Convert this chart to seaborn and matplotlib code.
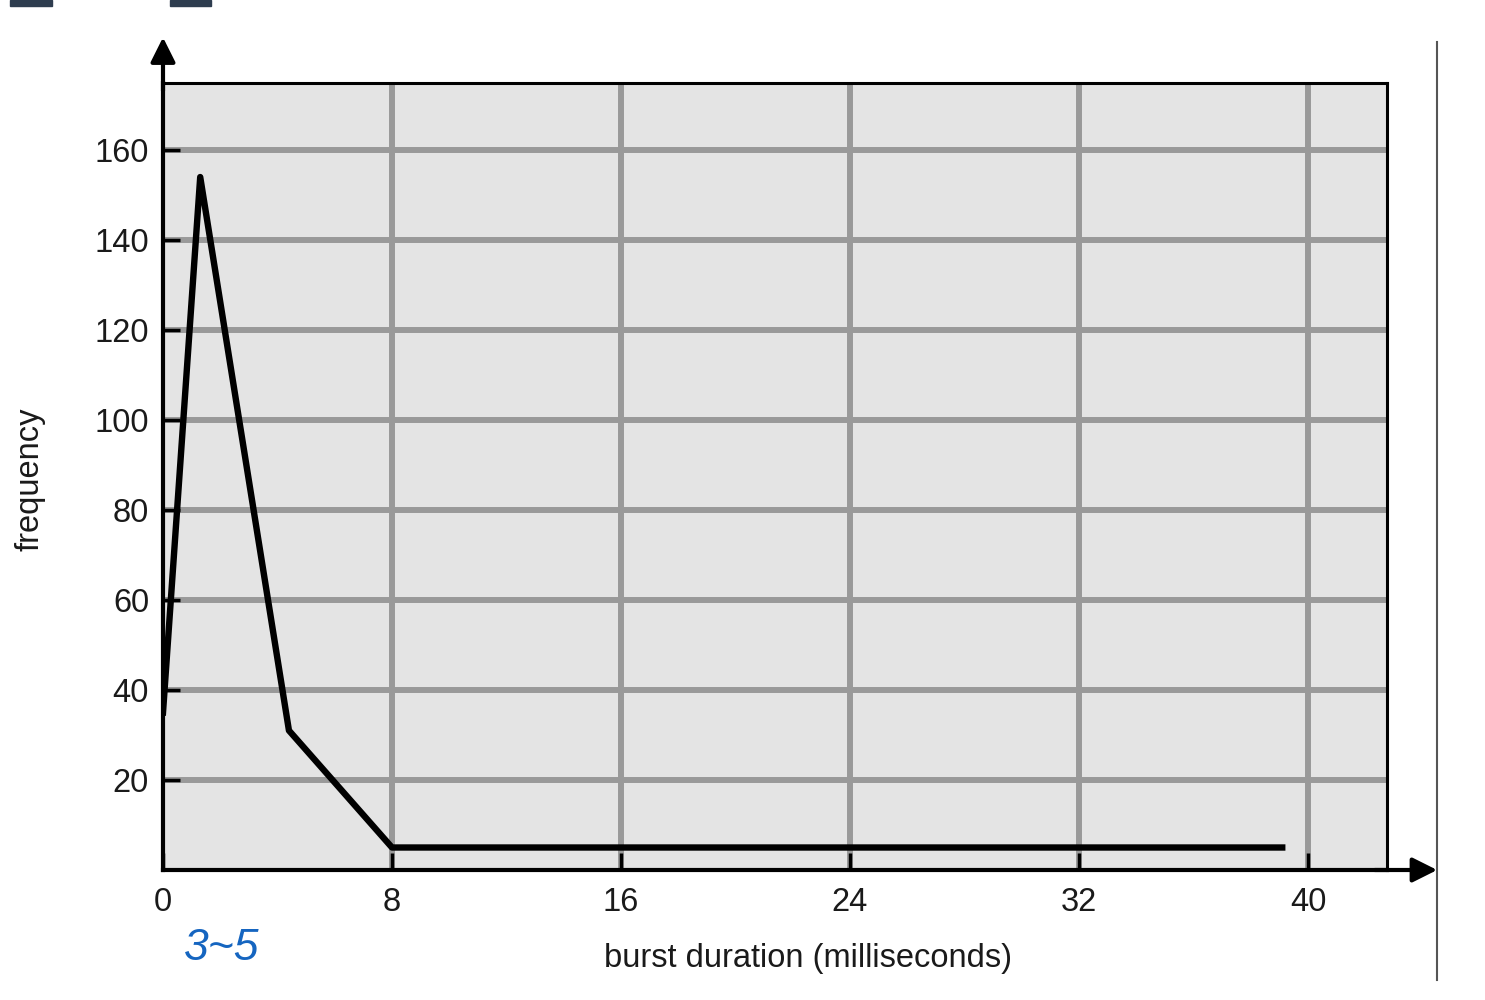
import matplotlib
matplotlib.use("Agg")
import matplotlib.pyplot as plt
import seaborn as sns
import pandas as pd
from matplotlib.patches import Rectangle
from matplotlib.lines import Line2D

burst_ms = [0.0, 1.3, 4.4, 8.0, 39.1]
frequency = [35, 154, 31, 5, 5]
x_ticks = [0, 8, 16, 24, 32, 40]
y_ticks = [20, 40, 60, 80, 100, 120, 140, 160]

df = pd.DataFrame({"burst": burst_ms, "freq": frequency})

plt.rcParams["font.family"] = ["Liberation Sans", "DejaVu Sans"]

W, H = 1485, 1000
fig = plt.figure(figsize=(W / 100, H / 100), dpi=100)
ax = fig.add_axes([163 / W, 1 - 870 / H, (1387 - 163) / W, (870 - 83) / H])
ax.set_facecolor("#e4e4e4")

ax.set_xlim(0, 42.76)
ax.set_ylim(0, 174.9)

for xv in x_ticks[1:]:
    ax.axvline(xv, color="#999999", lw=4.3, zorder=1)
for yv in y_ticks:
    ax.axhline(yv, color="#999999", lw=4.3, zorder=1)

sns.lineplot(data=df, x="burst", y="freq", ax=ax, color="black", lw=4.6,
             zorder=3, sort=False, legend=False)

ax.set_xticks(x_ticks)
ax.set_yticks(y_ticks)
ax.tick_params(axis="both", direction="in", length=12, width=2.5, color="black",
               labelsize=23.5, labelcolor="#1a1a1a")
ax.tick_params(axis="x", pad=12)
ax.tick_params(axis="y", pad=10)
ax.set_xlabel("")
ax.set_ylabel("")

for side in ["top", "right"]:
    ax.spines[side].set_linewidth(2.2)
    ax.spines[side].set_color("black")
for side in ["left", "bottom"]:
    ax.spines[side].set_linewidth(3)
    ax.spines[side].set_color("black")

# axis arrows
arrow_style = "-|>,head_length=0.5,head_width=0.25"
ax.annotate("", xy=(0, 1.058), xytext=(0, 0.99), xycoords="axes fraction",
            arrowprops=dict(arrowstyle=arrow_style, color="black", lw=3,
                            mutation_scale=30, shrinkA=0, shrinkB=0))
ax.annotate("", xy=(1.041, 0), xytext=(0.99, 0), xycoords="axes fraction",
            arrowprops=dict(arrowstyle=arrow_style, color="black", lw=3,
                            mutation_scale=30, shrinkA=0, shrinkB=0))

fig.text(30 / W, 1 - 479 / H, "frequency", rotation=90, ha="center", va="center",
         fontsize=23.5, color="#1a1a1a")
fig.text(808 / W, 1 - 958 / H, "burst duration (milliseconds)", ha="center",
         va="center", fontsize=23.5, color="#1a1a1a")

# handwritten note
fig.text(222 / W, 1 - 948 / H, "3~5", ha="center", va="center", fontsize=32,
         color="#1565c0", style="italic")

# vertical scan line at right
fig.add_artist(Line2D([1437 / W, 1437 / W], [1 - 42 / H, 1 - 980 / H],
                      transform=fig.transFigure, color="#555555", lw=1.5))

# dark scan marks at top
fig.patches.append(Rectangle((10 / W, 1 - 6 / H), 42 / W, 6 / H,
                             transform=fig.transFigure, color="#2e3d4f"))
fig.patches.append(Rectangle((170 / W, 1 - 6 / H), 41 / W, 6 / H,
                             transform=fig.transFigure, color="#2e3d4f"))

fig.savefig("out.png", dpi=100)
